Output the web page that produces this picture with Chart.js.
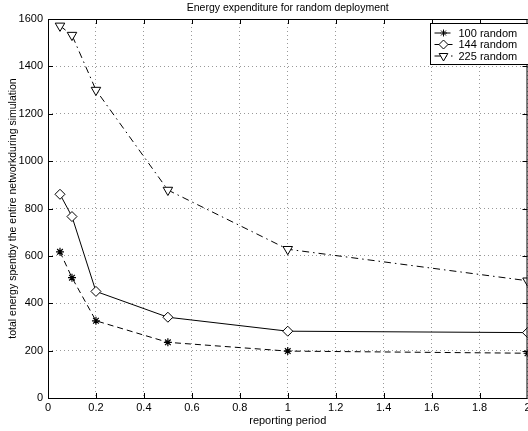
<!DOCTYPE html>
<html>
<head>
<meta charset="utf-8">
<script src="https://cdn.jsdelivr.net/npm/chart.js@4/dist/chart.umd.min.js"></script>
<style>
  html, body { margin: 0; padding: 0; background: #fff; overflow: hidden; }
  /* a little wider than the window: the plot runs to the right edge */
  #wrap { width: 534px; height: 431px; }
</style>
</head>
<body>
<div id="wrap"><canvas id="energyChart"></canvas></div>
<script>
// reporting periods and energy spent per deployment size
const periods = [0.05, 0.1, 0.2, 0.5, 1, 2];
const random100 = [617, 508, 326, 235, 198, 189];
const random144 = [860, 766, 450, 341, 282, 276];
const random225 = [1571, 1532, 1300, 878, 628, 495];
const seriesNames = ['100 random', '144 random', '225 random'];

const FONT = 'Liberation Sans, Arial, Helvetica, sans-serif';

const toPoints = vals => vals.map((v, i) => ({ x: periods[i], y: v }));

// axes frame, inward ticks, title and boxed legend (MATLAB look)
const frameAndLegend = {
  id: 'frameAndLegend',
  afterDraw(chart) {
    const { ctx, chartArea: a, scales } = chart;
    ctx.save();
    ctx.strokeStyle = '#000';
    ctx.lineWidth = 1;
    ctx.strokeRect(a.left + 0.5, a.top + 0.5, a.right - a.left - 1, a.bottom - a.top);

    ctx.beginPath();
    scales.x.ticks.forEach(t => {
      const px = Math.round(scales.x.getPixelForValue(t.value)) + 0.5;
      ctx.moveTo(px, a.bottom); ctx.lineTo(px, a.bottom - 5);
      ctx.moveTo(px, a.top); ctx.lineTo(px, a.top + 5);
    });
    scales.y.ticks.forEach(t => {
      const py = Math.round(scales.y.getPixelForValue(t.value)) + 0.5;
      ctx.moveTo(a.left, py); ctx.lineTo(a.left + 5, py);
      ctx.moveTo(a.right, py); ctx.lineTo(a.right - 5, py);
    });
    ctx.stroke();

    // title
    ctx.fillStyle = '#000';
    ctx.font = '10.5px ' + FONT;
    ctx.textAlign = 'center';
    ctx.textBaseline = 'middle';
    ctx.fillText('Energy expenditure for random deployment', (a.left + a.right) / 2, 8.5);

    // legend box
    const bx = 430.5, by = 23.5, bw = 100, bh = 41;
    ctx.fillStyle = '#fff';
    ctx.fillRect(bx, by, bw, bh);
    ctx.strokeRect(bx, by, bw, bh);
    ctx.font = '11px ' + FONT;
    ctx.textAlign = 'left';
    chart.data.datasets.forEach((ds, i) => {
      const ry = by + 9.5 + i * 11.5;
      ctx.beginPath();
      ctx.setLineDash(ds.borderDash || []);
      ctx.moveTo(bx + 4, ry); ctx.lineTo(bx + 22, ry);
      ctx.strokeStyle = '#000';
      ctx.stroke();
      ctx.setLineDash([]);
      ctx.fillStyle = ds.pointBackgroundColor;
      Chart.helpers.drawPoint(ctx, {
        pointStyle: ds.pointStyle,
        rotation: ds.pointRotation || 0,
        radius: ds.pointRadius - 0.5,
        borderWidth: 1
      }, bx + 13, ry);
      ctx.fillStyle = '#000';
      ctx.fillText(ds.label, bx + 28, ry + 0.5);
    });
    ctx.restore();
  }
};

new Chart(document.getElementById('energyChart'), {
  type: 'line',
  data: {
    datasets: [
      {
        label: seriesNames[0], data: toPoints(random100),
        borderColor: '#000', borderWidth: 1, borderDash: [6, 4],
        pointStyle: 'star', pointRadius: 4, pointBorderColor: '#000',
        pointBackgroundColor: '#000', pointBorderWidth: 1.2
      },
      {
        label: seriesNames[1], data: toPoints(random144),
        borderColor: '#000', borderWidth: 1,
        pointStyle: 'rectRot', pointRadius: 5, pointBorderColor: '#000',
        pointBackgroundColor: '#fff', pointBorderWidth: 1
      },
      {
        label: seriesNames[2], data: toPoints(random225),
        borderColor: '#000', borderWidth: 1, borderDash: [7, 4, 1.5, 4],
        pointStyle: 'triangle', pointRotation: 180, pointRadius: 5.5,
        pointBorderColor: '#000', pointBackgroundColor: '#fff', pointBorderWidth: 1
      }
    ]
  },
  options: {
    responsive: true,
    maintainAspectRatio: false,
    animation: false,
    layout: { padding: { top: 19, right: 0, left: 0, bottom: 0 } },
    plugins: {
      legend: { display: false },
      title: { display: false },
      tooltip: { enabled: false }
    },
    scales: {
      x: {
        type: 'linear', min: 0, max: 2,
        afterFit: s => { s.height = 33; },
        ticks: {
          stepSize: 0.2, color: '#000', padding: 3,
          font: { family: FONT, size: 11 },
          callback: v => Number(v.toFixed(1)).toString(),
          maxRotation: 0
        },
        grid: { color: '#999', drawTicks: false },
        border: { display: false, dash: [1, 3] },
        title: {
          display: true, text: 'reporting period', color: '#000',
          font: { family: FONT, size: 11 }, padding: { top: 0, bottom: 3 }
        }
      },
      y: {
        min: 0, max: 1600,
        afterFit: s => { s.width = 48; },
        ticks: {
          stepSize: 200, color: '#000', padding: 5,
          font: { family: FONT, size: 11 },
          callback: v => String(v)
        },
        grid: { color: '#999', drawTicks: false },
        border: { display: false, dash: [1, 3] },
        title: {
          display: true, text: 'total energy spentby the entire networkduring simulation',
          color: '#000', font: { family: FONT, size: 10.5 }, padding: { top: 7, bottom: 0 }
        }
      }
    }
  },
  plugins: [frameAndLegend]
});
</script>
</body>
</html>
